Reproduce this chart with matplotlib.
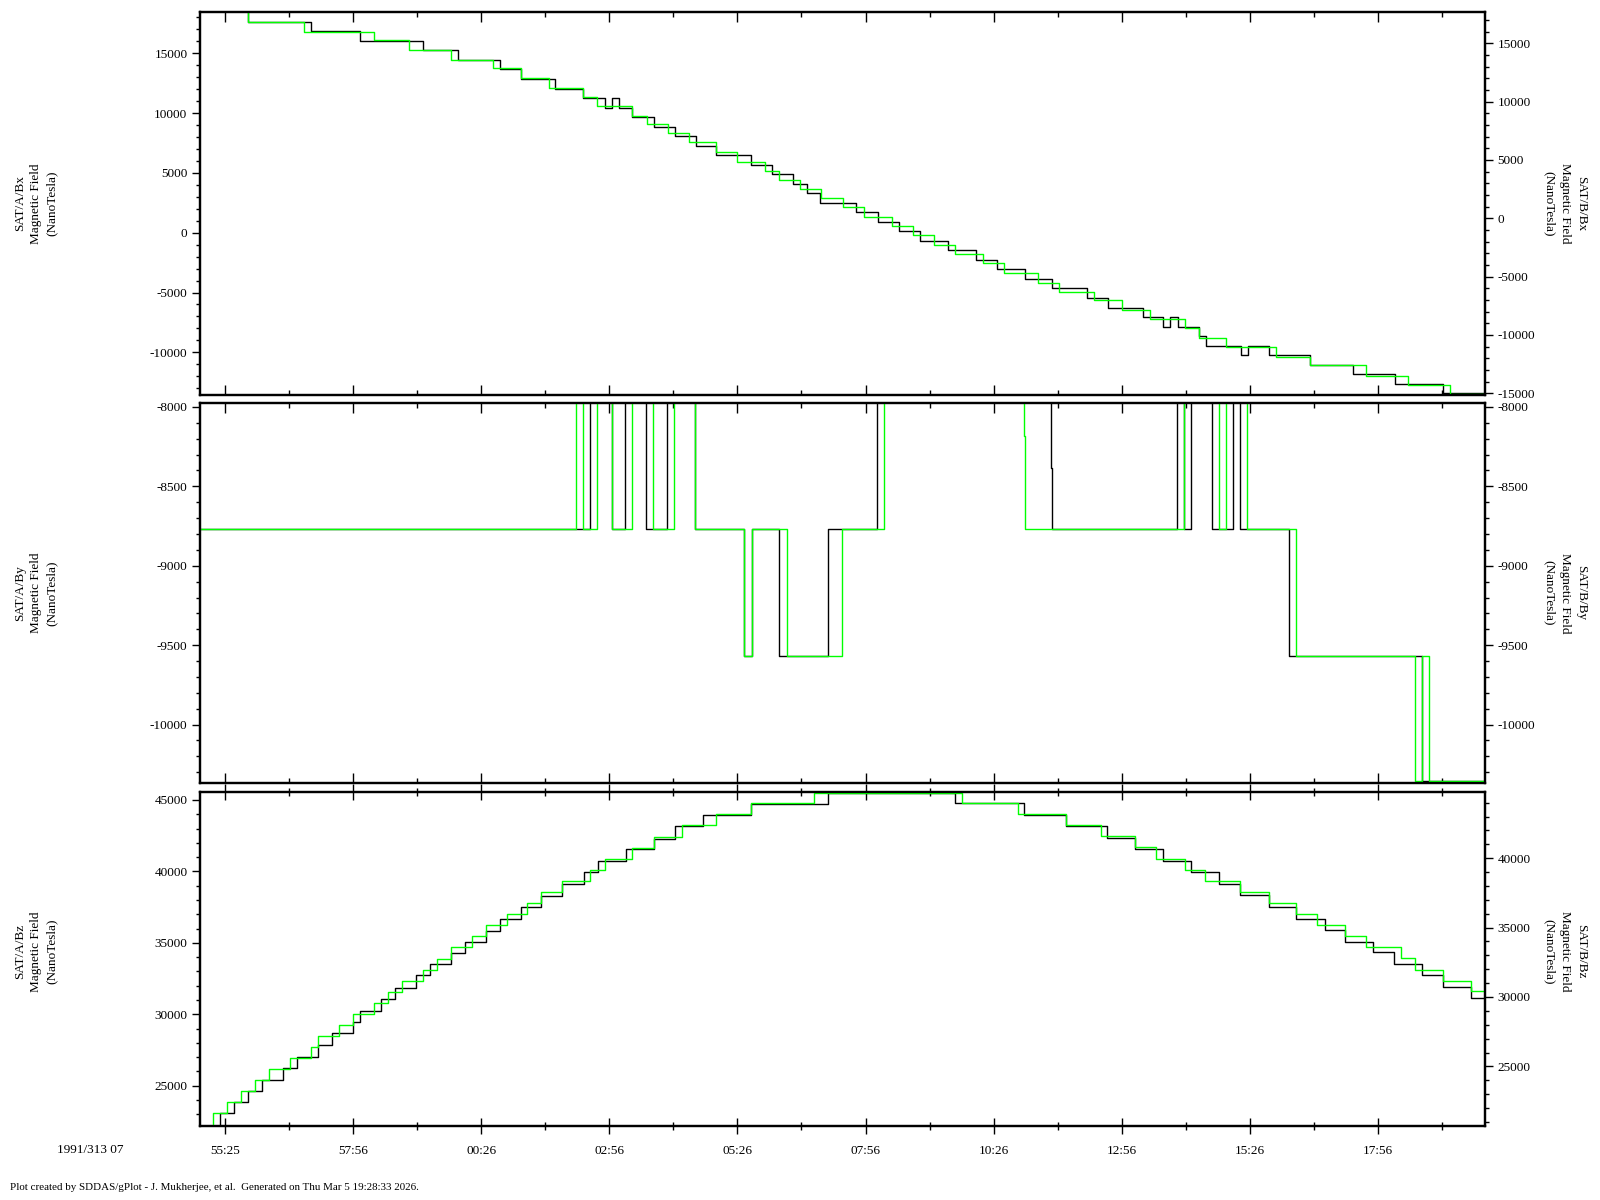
import matplotlib
matplotlib.use('Agg')
import matplotlib.pyplot as plt
from matplotlib.ticker import MultipleLocator, FixedLocator, FormatStrFormatter

plt.rcParams['font.family'] = ['Liberation Serif', 'DejaVu Serif']
plt.rcParams['font.size'] = 9.5

# time axis: seconds relative to 1991/313 07:55:25
T_START, T_END = -29, 1475
tick_secs = [0, 150, 300, 450, 600, 750, 900, 1050, 1200, 1350]
tick_labels = ['55:25', '57:56', '00:26', '02:56', '05:26',
               '07:56', '10:26', '12:56', '15:26', '17:56']

# ---- Bx ----
bx_a_t = [-29, 27.4, 100.5, 158.2, 231.7, 272.6, 321.7, 346.2, 387.0, 419.7, 444.7, 452.9,
          461.1, 476.9, 502.0, 526.5, 551.0, 575.5, 616.4, 640.9, 665.4, 681.8, 697.2, 739.3,
          764.1, 788.8, 813.5, 846.5, 879.0, 903.7, 936.2, 968.2, 1009.4, 1033.6, 1074.3,
          1098.6, 1106.8, 1115.1, 1139.8, 1148.0, 1189.3, 1197.5, 1221.7, 1270.7, 1320.1,
          1369.1, 1426.3]
bx_a_v = [18800, 17589, 16864, 16001, 15276, 14440, 13687, 12851, 11988, 11263, 10399, 11235,
          10399, 9675, 8839, 8059, 7223, 6470, 5662, 4882, 4074, 3293, 2457, 1705,
          869, 117, -719, -1472, -2308, -3060, -3896, -4649, -5485, -6321, -7073,
          -7909, -7073, -7909, -8661, -9497, -10250, -9497, -10250, -11086, -11838,
          -12674, -13427]
bx_b_t = [-29, 27.4, 92.3, 174.5, 215.4, 264.4, 313.5, 346.2, 378.9, 419.7, 436.1, 476.9,
          493.8, 518.3, 542.8, 575.5, 600.0, 632.7, 649.1, 673.6, 698.1, 723.1, 747.6, 780.5,
          805.3, 830.0, 854.7, 887.2, 911.9, 951.7, 976.4, 1017.1, 1049.6, 1082.6, 1123.3,
          1139.8, 1172.3, 1230.0, 1270.7, 1336.1, 1385.1, 1434.6]
bx_b_v = [18500, 16798, 15997, 15255, 14454, 13568, 12853, 12052, 11195, 10423, 9651, 8794,
          8051, 7279, 6507, 5650, 4849, 4077, 3248, 2477, 1705, 933, 75, -697,
          -1468, -2326, -3098, -3870, -4671, -5528, -6300, -7043, -7900, -8672, -9444,
          -10302, -11073, -11846, -12617, -13475, -14247, -15019]

# ---- By ----
by_a_t = [-29, 428.0, 453.0, 469.0, 493.5, 518.1, 550.9, 608.2, 616.8, 649.2, 706.5, 763.8,
          967.4, 968.6, 1114.8, 1123.0, 1131.2, 1155.8, 1180.3, 1188.5, 1245.9, 1401.4]
by_a_v = [-8770, -7960, -8770, -7960, -8770, -7960, -8770, -9570, -8770, -9570, -8770, -7960,
          -8382, -8770, -7960, -8770, -7960, -8770, -7960, -8770, -9570, -10355]
by_b_t = [-29, 411.6, 419.8, 436.2, 453.0, 477.2, 501.7, 526.3, 550.9, 608.2, 616.8, 657.7,
          722.9, 772.0, 935.0, 936.6, 1123.0, 1164.0, 1172.2, 1196.7, 1254.1, 1393.2, 1401.4,
          1409.6]
by_b_v = [-8770, -7960, -8770, -7960, -8770, -7960, -8770, -7960, -8770, -9570, -8770, -9570,
          -8770, -7960, -8181, -8770, -7960, -8770, -7960, -8770, -9570, -10355, -9570,
          -10355]

# ---- Bz ----
bz_a_t = [-29, -5.8, 10.6, 26.9, 43.3, 68.3, 84.6, 109.1, 125.5, 150.0, 158.2, 182.7, 199.1,
          223.6, 239.9, 264.4, 280.8, 305.3, 321.7, 346.2, 370.7, 395.2, 420.2, 436.6, 469.3,
          502.0, 526.5, 559.2, 616.4, 706.3, 854.2, 935.2, 984.6, 1033.1, 1065.6, 1098.6,
          1131.1, 1164.0, 1188.7, 1221.7, 1254.2, 1287.2, 1311.4, 1344.4, 1368.6, 1401.6,
          1426.3, 1458.8]
bz_a_v = [21500, 23057, 23828, 24645, 25415, 26255, 27026, 27866, 28660, 29476, 30247, 31087,
          31858, 32722, 33492, 34309, 35079, 35849, 36690, 37484, 38300, 39094, 39935, 40705,
          41545, 42292, 43179, 43950, 44743, 45470, 44766, 43950, 43179, 42316, 41569, 40728,
          39935, 39094, 38324, 37484, 36690, 35873, 35079, 34332, 33515, 32722, 31881, 31111]
bz_b_t = [-29, -13.5, 2.9, 19.2, 35.6, 51.9, 76.4, 101.0, 109.1, 133.7, 150.0, 174.5, 190.9,
          207.2, 231.7, 248.1, 264.4, 289.0, 305.3, 329.8, 354.3, 370.7, 395.2, 427.9, 444.7,
          476.9, 502.0, 534.6, 575.5, 616.4, 690.0, 862.5, 927.9, 984.6, 1025.9, 1065.6,
          1090.3, 1123.3, 1147.5, 1188.7, 1221.7, 1254.2, 1278.9, 1311.4, 1336.1, 1376.8,
          1393.3, 1426.3, 1458.8]
bz_b_v = [20000, 21610, 22403, 23196, 23989, 24782, 25575, 26367, 27160, 27953, 28746, 29539,
          30380, 31172, 31965, 32758, 33575, 34368, 35161, 35954, 36747, 37540, 38333, 39126,
          39966, 40759, 41552, 42369, 43162, 43955, 44680, 43955, 43162, 42369, 41576, 40783,
          39966, 39126, 38333, 37540, 36747, 35954, 35161, 34368, 33575, 32783, 31965, 31172,
          30404]

panels = [
    dict(a=(bx_a_t, bx_a_v), b=(bx_b_t, bx_b_v), comp='Bx',
         ylim_a=(-13570, 18453), ylim_b=(-15146, 17684), major=5000, minor=1000,
         rect=(0.125, 0.67083, 0.803125, 0.31917), label_y=0.8304),
    dict(a=(by_a_t, by_a_v), b=(by_b_t, by_b_v), comp='By',
         ylim_a=(-10368, -7975), ylim_b=(-10368, -7975), major=500, minor=100,
         rect=(0.125, 0.3475, 0.803125, 0.31667), label_y=0.506),
    dict(a=(bz_a_t, bz_a_v), b=(bz_b_t, bz_b_v), comp='Bz',
         ylim_a=(22178, 45560), ylim_b=(20706, 44769), major=5000, minor=1000,
         rect=(0.125, 0.06167, 0.803125, 0.27833), label_y=0.207),
]

fig = plt.figure(figsize=(16, 12), dpi=100)

for i, p in enumerate(panels):
    last = i == len(panels) - 1
    ax = fig.add_axes(p['rect'])
    ax2 = ax.twinx()

    ta, va = p['a']
    tb, vb = p['b']
    ax.plot(list(ta) + [T_END], list(va) + [va[-1]], drawstyle='steps-post',
            color='black', lw=1.0)
    ax2.plot(list(tb) + [T_END], list(vb) + [vb[-1]], drawstyle='steps-post',
             color='#00ff00', lw=1.0)

    ax.set_xlim(T_START, T_END)
    ax.set_ylim(*p['ylim_a'])
    ax2.set_ylim(*p['ylim_b'])

    for a in (ax, ax2):
        a.yaxis.set_major_locator(MultipleLocator(p['major']))
        a.yaxis.set_minor_locator(MultipleLocator(p['minor']))
        a.yaxis.set_major_formatter(FormatStrFormatter('%d'))
        a.tick_params(axis='y', which='major', direction='out', length=6, width=1,
                      labelsize=9.5, pad=3)
        a.tick_params(axis='y', which='minor', direction='out', length=3, width=1)
        for s in a.spines.values():
            s.set_linewidth(1.6)

    ax.xaxis.set_major_locator(FixedLocator(tick_secs))
    ax.xaxis.set_minor_locator(FixedLocator([s + 75 for s in tick_secs]))
    ax.tick_params(axis='x', which='major', top=True, bottom=True, direction='in',
                   length=7, width=1)
    ax.tick_params(axis='x', which='minor', top=True, bottom=True, direction='in',
                   length=3.5, width=1)
    if last:
        ax.set_xticklabels(tick_labels)
        ax.tick_params(axis='x', which='major', direction='inout', length=11, pad=8,
                       labelsize=9.5)
        ax.tick_params(axis='x', which='minor', direction='inout', length=6)
    else:
        ax.tick_params(axis='x', labelbottom=False)

    fig.text(0.0225, p['label_y'], 'SAT/A/%s\nMagnetic Field\n(NanoTesla)' % p['comp'],
             rotation=90, ha='center', va='center', multialignment='center',
             fontsize=9.5, linespacing=1.45)
    fig.text(0.978, p['label_y'], 'SAT/B/%s\nMagnetic Field\n(NanoTesla)' % p['comp'],
             rotation=270, ha='center', va='center', multialignment='center',
             fontsize=9.5, linespacing=1.45)

fig.text(90 / 1600, 1 - 1150 / 1200, '1991/313 07', ha='center', va='center', fontsize=9.5)
fig.text(10 / 1600, 1 - 1188 / 1200,
         'Plot created by SDDAS/gPlot - J. Mukherjee, et al.  Generated on Thu Mar 5 19:28:33 2026.',
         ha='left', va='center', fontsize=7.9)

fig.savefig('out.png', dpi=100)
